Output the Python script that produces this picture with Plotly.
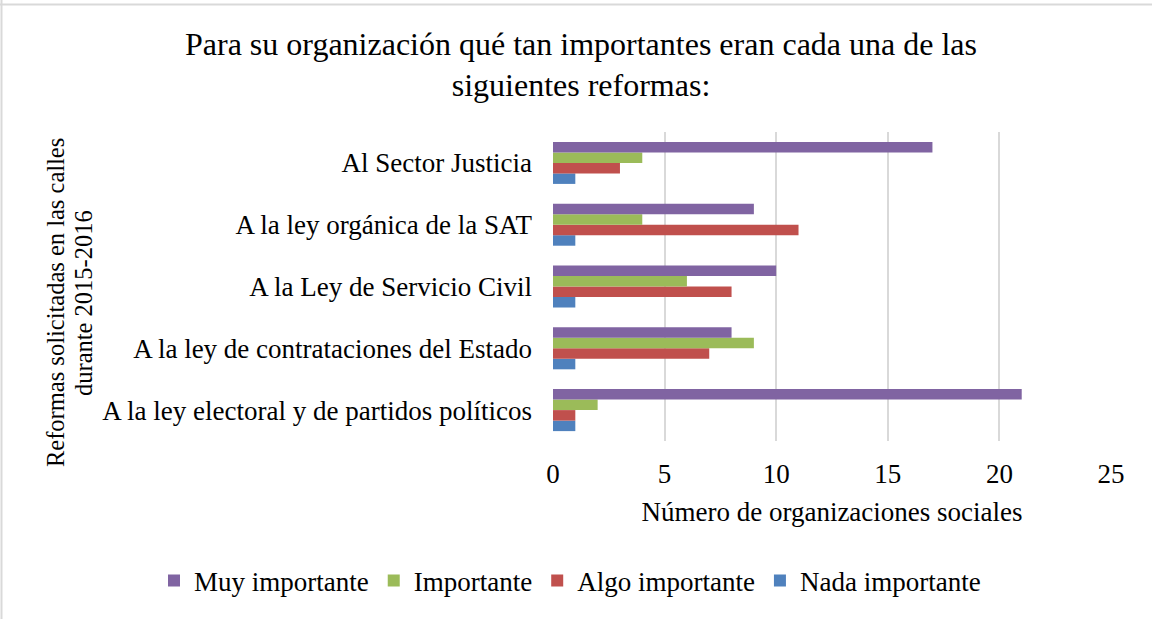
import plotly.graph_objects as go

categories = [
    "A la ley electoral y de partidos políticos",
    "A la ley de contrataciones del Estado",
    "A la Ley de Servicio Civil",
    "A la ley orgánica de la SAT",
    "Al Sector Justicia",
]
nada_importante = [1, 1, 1, 1, 1]
algo_importante = [1, 7, 8, 11, 3]
importante = [2, 9, 6, 4, 4]
muy_importante = [21, 8, 10, 9, 17]

x_ticks = [0, 5, 10, 15, 20, 25]

FONT = "Liberation Serif, Times New Roman, serif"

series = [
    ("Nada importante", nada_importante, "#4F81BD"),
    ("Algo importante", algo_importante, "#C0504D"),
    ("Importante", importante, "#9BBB59"),
    ("Muy importante", muy_importante, "#8064A2"),
]

fig = go.Figure()
for name, vals, color in series:
    fig.add_trace(go.Bar(
        y=categories, x=vals, name=name, orientation="h",
        marker=dict(color=color, line=dict(width=0)),
    ))

W, H = 1152, 619
L, R = 553, 1152 - 1111
T, B = 132, 619 - 441
pw, ph = W - L - R, H - T - B

def px(xp):
    return (xp - L) / pw

def py(yp):
    return (T + ph - yp) / ph

def fx(xp):
    return xp / W

def fy(yp):
    return 1 - yp / H

fig.update_layout(
    width=W, height=H,
    margin=dict(l=L, r=R, t=T, b=B, autoexpand=False),
    paper_bgcolor="white", plot_bgcolor="white",
    barmode="group", bargap=0.32, bargroupgap=0,
    font=dict(family=FONT, size=27, color="black"),
    title=dict(
        text="Para su organización qué tan importantes eran cada una de las<br>siguientes reformas:",
        x=fx(581), xanchor="center",
        y=fy(54.5), yanchor="middle",
        font=dict(family=FONT, size=32, color="black"),
    ),
    xaxis=dict(
        range=[0, 25], tickvals=x_ticks, ticks="",
        showgrid=True, gridcolor="#D9D9D9", gridwidth=2,
        zeroline=False, showline=False,
        tickfont=dict(size=27), ticklabelstandoff=14,
        title=dict(text="Número de organizaciones sociales", font=dict(size=27), standoff=14),
        fixedrange=True,
    ),
    yaxis=dict(
        categoryorder="array", categoryarray=categories,
        ticks="", showgrid=False, showline=False, zeroline=False,
        tickfont=dict(size=27), ticklabelstandoff=20,
        fixedrange=True,
    ),
    legend=dict(
        orientation="h", traceorder="reversed",
        x=px(154), xanchor="left", y=py(581), yanchor="middle",
        font=dict(size=27), itemwidth=30,
    ),
    showlegend=True,
)

for line, xc in (("Reformas solicitadas en las calles", 55), ("durante 2015-2016", 83)):
    fig.add_annotation(
        text=line, textangle=-90, xref="paper", yref="paper",
        x=px(xc), y=py(303), xanchor="center", yanchor="middle",
        showarrow=False, font=dict(family=FONT, size=24.5, color="black"),
    )

# outer border (top and left visible)
fig.add_shape(type="line", xref="paper", yref="paper",
              x0=px(0), x1=px(1152), y0=py(4.5), y1=py(4.5),
              line=dict(color="#D9D9D9", width=2), layer="below")
fig.add_shape(type="line", xref="paper", yref="paper",
              x0=px(1.5), x1=px(1.5), y0=py(0), y1=py(619),
              line=dict(color="#D9D9D9", width=2), layer="below")

fig.write_html("out.html", config={"displayModeBar": False},
               post_script="document.body.style.margin='0';")
